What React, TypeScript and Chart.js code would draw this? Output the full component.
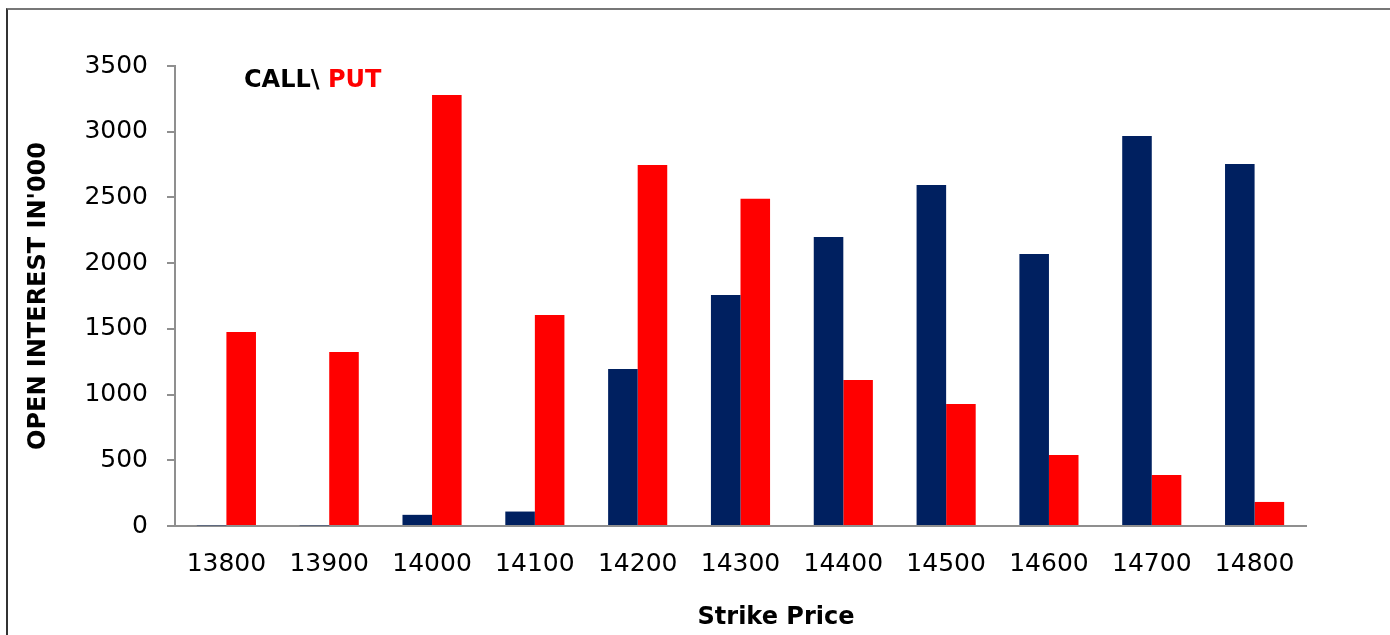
import React, { useEffect, useRef } from "react";
import { Chart, registerables } from "chart.js";

Chart.register(...registerables);

const strikes = ["13800", "13900", "14000", "14100", "14200", "14300", "14400", "14500", "14600", "14700", "14800"];
const callOI = [5, 5, 85, 110, 1195, 1758, 2199, 2595, 2070, 2968, 2755];
const putOI = [1476, 1324, 3280, 1606, 2747, 2489, 1111, 928, 540, 388, 183];
const yTicks = [0, 500, 1000, 1500, 2000, 2500, 3000, 3500];

const FONT = "'DejaVu Sans', Verdana, sans-serif";
const AXIS = "#8f8f8f";

const extraText = {
  id: "extraText",
  afterDraw(chart: any) {
    const { ctx, chartArea } = chart;
    ctx.save();
    ctx.font = `bold 24px ${FONT}`;
    ctx.textBaseline = "alphabetic";
    ctx.textAlign = "left";
    const x = chartArea.left + 69;
    const y = chartArea.top + 21;
    const first = "CALL\\ ";
    ctx.fillStyle = "#000000";
    ctx.fillText(first, x, y);
    const w = ctx.measureText(first).width;
    ctx.fillStyle = "#ff0000";
    ctx.fillText("PUT", x + w, y);
    // x axis title
    ctx.fillStyle = "#000000";
    ctx.textAlign = "center";
    ctx.textBaseline = "middle";
    ctx.fillText("Strike Price", chartArea.left + 601, 618);
    ctx.restore();
  },
};

export default function App() {
  const ref = useRef<HTMLCanvasElement | null>(null);

  useEffect(() => {
    if (!ref.current) return;
    const chart = new Chart(ref.current, {
      type: "bar",
      data: {
        labels: strikes,
        datasets: [
          { label: "CALL", data: callOI, backgroundColor: "#002060", borderWidth: 0 },
          { label: "PUT", data: putOI, backgroundColor: "#ff0000", borderWidth: 0 },
        ],
      },
      plugins: [extraText],
      options: {
        animation: false,
        responsive: false,
        layout: { padding: { top: 66, right: 84, left: 0, bottom: 0 } },
        datasets: { bar: { categoryPercentage: 0.575, barPercentage: 1 } },
        plugins: { legend: { display: false }, tooltip: { enabled: false }, title: { display: false } },
        scales: {
          x: {
            grid: { display: false },
            border: { display: true, color: AXIS, width: 2 },
            ticks: { color: "#000", font: { family: FONT, size: 25 }, padding: 15, maxRotation: 0, autoSkip: false },
            title: { display: false },
            afterFit(scale: any) {
              scale.height = 109;
            },
          },
          y: {
            min: 0,
            max: 3500,
            afterBuildTicks(scale: any) {
              scale.ticks = yTicks.map((v) => ({ value: v }));
            },
            grid: { drawOnChartArea: false, drawTicks: true, tickLength: 8, color: AXIS, lineWidth: 2 },
            border: { display: true, color: AXIS, width: 2 },
            ticks: {
              color: "#000",
              font: { family: FONT, size: 25 },
              padding: 19,
              callback: (v: any) => String(v),
            },
            title: {
              display: true,
              text: "OPEN INTEREST IN'000",
              color: "#000",
              font: { family: FONT, size: 24, weight: "bold" },
              padding: { top: 24, bottom: 0 },
            },
            afterFit(scale: any) {
              scale.width = 175;
            },
          },
        },
      },
    } as any);
    return () => chart.destroy();
  }, []);

  return (
    <div style={{ position: "fixed", left: 0, top: 0, width: 1390, height: 635, overflow: "hidden", background: "#fff" }}>
      <div
        style={{
          position: "absolute",
          left: 6,
          top: 8,
          width: 1500,
          height: 700,
          borderLeft: "2px solid #333",
          borderTop: "2px solid #777",
          boxSizing: "border-box",
        }}
      />
      <canvas ref={ref} width={1390} height={635} style={{ position: "absolute", left: 0, top: 0, width: 1390, height: 635 }} />
    </div>
  );
}
